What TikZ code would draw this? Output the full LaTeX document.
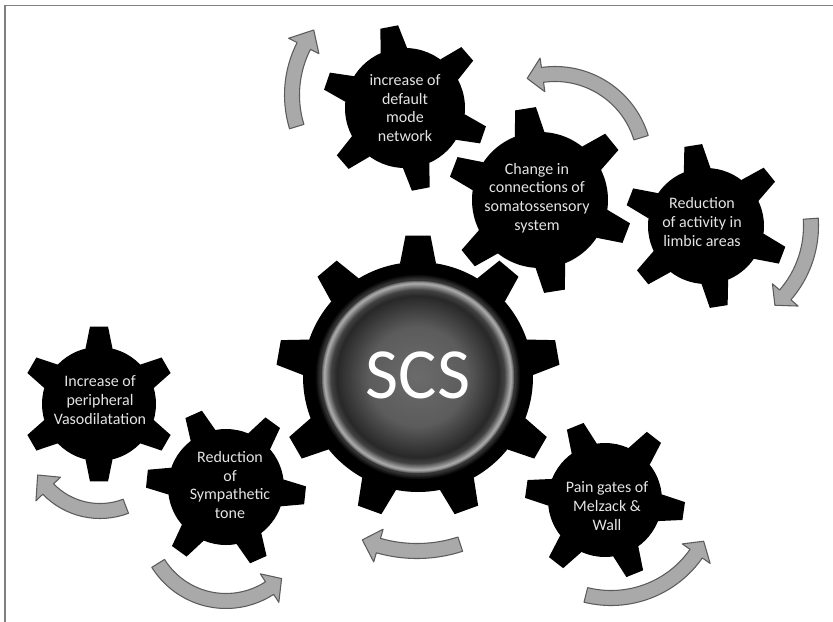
\documentclass[tikz,border=0pt]{standalone}
\usepackage{fontspec}
\setmainfont{Carlito}
\definecolor{arrowfill}{HTML}{A9A9A9}
\definecolor{arrowedge}{HTML}{5C5C5C}
\definecolor{labeltext}{HTML}{E4E4E4}
\definecolor{framegray}{HTML}{808080}

% gear: centre, root radius, tip radius, teeth, first tooth angle,
% half tooth width at root, half tooth width at tip
\newcommand{\gearshape}[7]{%
  \begin{scope}[shift={(#1)}]
    \fill[black] (0,0) circle[radius=#2];
    \pgfmathsetmacro\gbr{asin(#6/#2)}
    \pgfmathsetmacro\gbt{asin(#7/#3)}
    \pgfmathsetmacro\gstep{360/#4}
    \pgfmathsetmacro\ginner{#2-10}
    \foreach \k in {1,...,#4}{
      \pgfmathsetmacro\gang{#5+(\k-1)*\gstep}
      \fill[black] (\gang-\gbr:#2) -- (\gang-\gbt:#3) -- (\gang+\gbt:#3)
        -- (\gang+\gbr:#2) -- (\gang:\ginner) -- cycle;
    }
  \end{scope}}

% curved arrow: centre, radius, tail angle, head-base angle, tip angle
\newcommand{\bentarrow}[5]{%
  \pgfmathsetmacro\aout{#2+7.5}
  \pgfmathsetmacro\ain{#2-7.5}
  \pgfmathsetmacro\bout{#2+17}
  \pgfmathsetmacro\bin{#2-17}
  \filldraw[turnarrow, shift={(#1)}]
    (#3:\aout) arc[start angle=#3, end angle=#4, radius=\aout]
    -- (#4:\bout) -- (#5:#2) -- (#4:\bin) -- (#4:\ain)
    arc[start angle=#4, end angle=#3, radius=\ain] -- cycle;}

\begin{document}
\begin{tikzpicture}[x=0.75pt,y=0.75pt,
  gearlabel/.style={text=labeltext, font=\fontsize{12}{14}\selectfont,
    align=center, inner sep=0pt},
  turnarrow/.style={fill=arrowfill, draw=arrowedge, line width=0.8pt,
    line join=round}]
\useasboundingbox (0,0) rectangle (833,-622);
\fill[white] (0,0) rectangle (833,-622);
\draw[framegray, line width=1.4pt] (5,-622) -- (5,-5.5) -- (833,-5.5);

% gear centres
\coordinate (gS) at (418,-377);
\coordinate (gA) at (405,-108);
\coordinate (gB) at (540,-200);
\coordinate (gC) at (706,-226);
\coordinate (gD) at (99,-404);
\coordinate (gE) at (226,-487);
\coordinate (gF) at (605,-500);

% gears
\gearshape{gA}{60}{83}{6}{41}{13.5}{9}
\gearshape{gB}{68}{93}{6}{39}{15}{10.5}
\gearshape{gC}{58}{82}{6}{39}{13.5}{9}
\gearshape{gD}{57}{78}{6}{30}{13.5}{9}
\gearshape{gE}{58}{80}{6}{54}{13.5}{9}
\gearshape{gF}{57}{80}{6}{52}{13.5}{9}
\gearshape{gS}{115}{142}{9}{90}{18}{12.5}

% soft halo around the hub disk
\foreach \rr in {103,102.5,...,97.5}{
  \pgfmathsetmacro\gv{0.22*(103-\rr)/5.5}
  \definecolor{halotone}{gray}{\gv}
  \fill[halotone] (gS) circle[radius=\rr];
}
% hub disk: lighter centre, dark band, soft bright rim
\foreach \rr in {97,96.5,...,0.5}{
  \pgfmathsetmacro\gv{\rr<=50 ? (0.42-0.06*\rr/50) :
    (\rr<=81 ? (0.36-0.2*(\rr-50)/31) :
    (\rr<=87 ? (0.16+0.1*(\rr-81)/6) :
    (\rr<=93.5 ? (0.26+0.42*(\rr-87)/6.5) :
    (\rr<=95.5 ? (0.68-0.2*(\rr-93.5)/2) : (0.48-0.3*(\rr-95.5)/1.5)))))}
  \definecolor{disktone}{gray}{\gv}
  \fill[disktone] (gS) circle[radius=\rr];
}

% labels
\node[text=white, font=\fontsize{54}{60}\selectfont, inner sep=0pt] (scs) at (418,-375) {SCS};
\node[gearlabel] (tA) at (405,-108) {increase of\\default\\mode\\network};
\node[gearlabel] (tB) at (537,-198) {Change in\\connections of\\somatossensory\\system};
\node[gearlabel] (tC) at (702,-222) {Reduction\\of activity in\\limbic areas};
\node[gearlabel] (tD) at (100,-400) {Increase of\\peripheral\\Vasodilatation};
\node[gearlabel] (tE) at (230,-485) {Reduction\\of\\Sympathetic\\tone};
\node[gearlabel] (tF) at (607,-506) {Pain gates of\\Melzack \&\\Wall};

% rotation arrows
\coordinate (rA) at (400,-95);
\coordinate (rB) at (555,-164);
\coordinate (rD) at (100,-439);
\coordinate (rE) at (226,-521);
\coordinate (rS) at (417,-411);
\coordinate (rF) at (611,-494);
\bentarrow{rA}{108}{197}{153}{143}
\bentarrow{rB}{90}{17}{98}{108}
\bentarrow{gC}{105}{4}{-41}{-49}
\bentarrow{rD}{72}{-69}{-136}{-150}
\bentarrow{rE}{80}{-148}{-57}{-46}
\bentarrow{rS}{140}{-72}{-106}{-113}
\bentarrow{rF}{104}{-104}{-35}{-27}
\end{tikzpicture}
\end{document}
